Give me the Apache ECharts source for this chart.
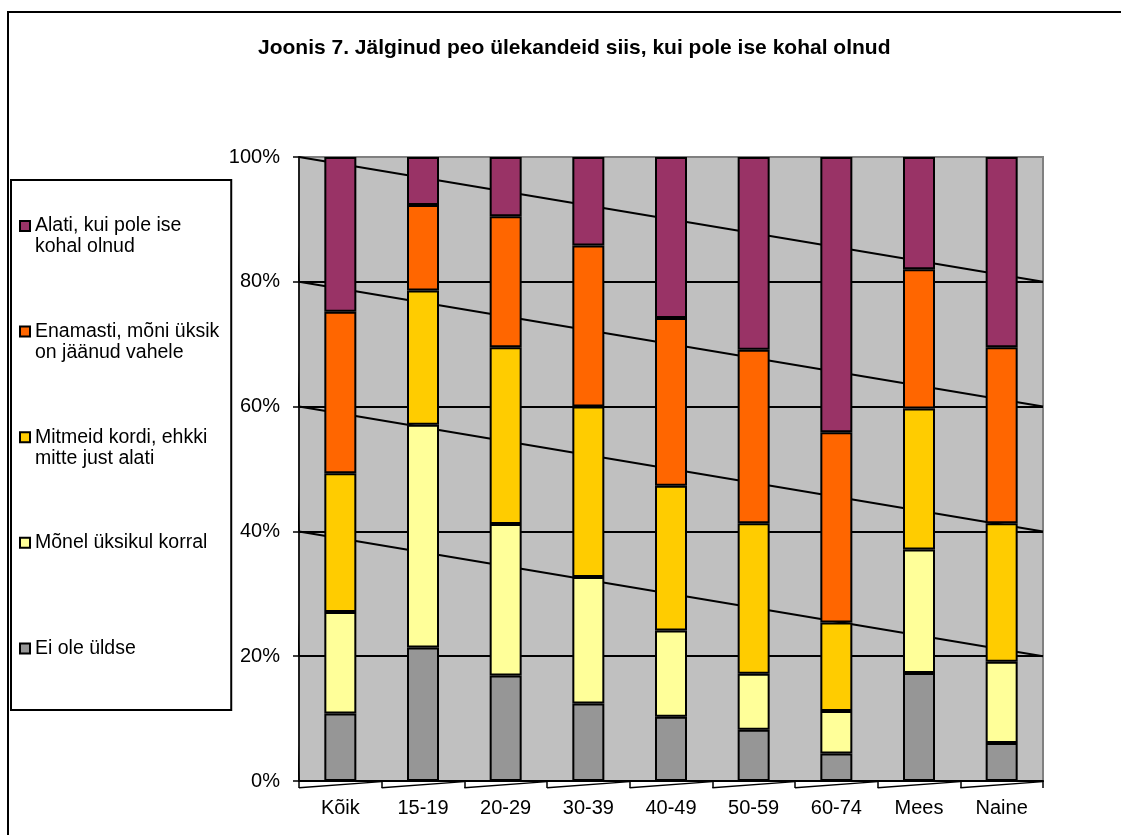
<!DOCTYPE html>
<html><head><meta charset="utf-8">
<script src="https://cdn.jsdelivr.net/npm/echarts@6/dist/echarts.min.js"></script>
<style>html,body{margin:0;padding:0;background:#fff}#c{width:1121px;height:835px}</style>
</head><body><div id="c"></div>
<script>
const chartTitle = 'Joonis 7. Jälginud peo ülekandeid siis, kui pole ise kohal olnud';
const categories = ['Kõik','15-19','20-29','30-39','40-49','50-59','60-74','Mees','Naine'];
const eiOleYldse   = [10.8, 21.4, 16.9, 12.4, 10.3,  8.2,  4.4, 17.3,  6.1];
const monelUksikul = [16.3, 35.7, 24.3, 20.3, 13.8,  9.0,  6.8, 19.8, 13.0];
const mitmeidKordi = [22.2, 21.5, 28.3, 27.3, 23.2, 24.1, 14.2, 22.6, 22.2];
const enamasti     = [25.9, 13.7, 21.0, 25.8, 26.9, 27.8, 30.5, 22.3, 28.2];
const alati        = [24.8,  7.7,  9.5, 14.2, 25.8, 30.9, 44.1, 18.0, 30.5];
const seriesNames = ['Ei ole üldse','Mõnel üksikul korral','Mitmeid kordi, ehkki mitte just alati','Enamasti, mõni üksik on jäänud vahele','Alati, kui pole ise kohal olnud'];
const legendTexts = ['\nEi ole üldse\n','\nMõnel üksikul korral\n','\nMitmeid kordi, ehkki\nmitte just alati','\nEnamasti, mõni üksik\non jäänud vahele','\nAlati, kui pole ise\nkohal olnud'];
const yTicks = [0, 20, 40, 60, 80, 100];

const seriesValues = [eiOleYldse, monelUksikul, mitmeidKordi, enamasti, alati];
const colors = ['#969696', '#FFFF99', '#FFCC00', '#FF6600', '#993366'];
const FONT = '"Liberation Sans", Arial, sans-serif';

const chart = echarts.init(document.getElementById('c'), null, {renderer: 'canvas'});

const decoLine = (data, w) => ({
  type: 'line', xAxisIndex: 1, yAxisIndex: 0, data: data, symbol: 'none',
  silent: true, clip: false, z: 1, animation: false,
  lineStyle: {color: '#000', width: w}
});

const series = [];
// perspective wall lines: each gridline level slants to the next lower one
for (let i = yTicks.length - 1; i >= 2; i--) {
  series.push(decoLine([[0, yTicks[i]], [1, yTicks[i - 1]]], 2));
}
// left wall wedges
const wallDx = -6 / 744;
for (let i = yTicks.length - 1; i >= 1; i--) {
  series.push(decoLine([[wallDx, yTicks[i]], [0, yTicks[i - 1]]], 1.5));
}
// floor wedges
for (let i = 0; i < categories.length; i++) {
  series.push(decoLine([[i / categories.length, -1.1], [(i + 1) / categories.length, -0.1]], 1.5));
}
seriesNames.forEach((n, k) => {
  series.push({
    name: n, type: 'bar', stack: 'all', barWidth: 32, z: 3,
    data: seriesValues[k], animation: false,
    itemStyle: {color: colors[k], borderColor: '#000', borderWidth: 2}
  });
});

const legendMap = {};
seriesNames.forEach((n, k) => legendMap[n] = legendTexts[k]);

chart.setOption({
  animation: false,
  backgroundColor: '#fff',
  title: {
    text: chartTitle, left: 258, top: 38, padding: 0,
    textStyle: {fontFamily: FONT, fontSize: 21, fontWeight: 'bold', color: '#000'}
  },
  legend: {
    data: seriesNames.slice().reverse(),
    orient: 'vertical', left: 11, top: 180,
    selectedMode: false,
    icon: 'rect', itemWidth: 10, itemHeight: 10, itemGap: 42.6,
    padding: [14.5, 12, 30, 8],
    borderColor: '#000', borderWidth: 2, backgroundColor: '#fff',
    formatter: name => legendMap[name],
    textStyle: {fontFamily: FONT, fontSize: 19.5, lineHeight: 21, color: '#000'}
  },
  graphic: [{
    type: 'rect', shape: {x: 8, y: 12, width: 1300, height: 1000},
    style: {fill: 'none', stroke: '#000', lineWidth: 2}, silent: true, z: 100
  }],
  grid: {
    left: 299, right: 78, top: 157, bottom: 54,
    show: true, backgroundColor: '#C0C0C0', borderColor: '#808080', borderWidth: 2
  },
  xAxis: [{
    type: 'category', data: categories,
    axisLine: {lineStyle: {color: '#000', width: 2}},
    axisTick: {show: true, length: 7, lineStyle: {color: '#000', width: 1.5}},
    axisLabel: {fontFamily: FONT, fontSize: 20, color: '#000', margin: 17}
  }, {
    type: 'value', min: 0, max: 1, show: false
  }],
  yAxis: {
    type: 'value', min: 0, max: 100, interval: 20,
    axisLine: {show: true, lineStyle: {color: '#000', width: 1.5}},
    axisTick: {show: true, length: 6, lineStyle: {color: '#000', width: 1.5}},
    axisLabel: {fontFamily: FONT, fontSize: 20, color: '#000', margin: 19, formatter: '{value}%'},
    splitLine: {show: true, lineStyle: {color: ['#000', '#000', '#000', '#000', '#000', '#808080'], width: 2}}
  },
  series: series
});
</script></body></html>
